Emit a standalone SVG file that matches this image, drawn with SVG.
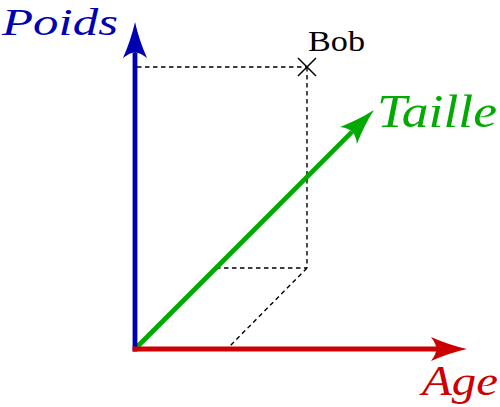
<svg xmlns="http://www.w3.org/2000/svg" width="500" height="407" viewBox="0 0 500 407">
  <style>
    .axis { fill: none; stroke-width: 4.8; stroke-linecap: butt; }
    .dash { fill: none; stroke: #000; stroke-width: 1.4; stroke-dasharray: 4.5 3.5; }
  </style>
  <defs>
    <path id="head" d="M36,0 Q18,-4 0,-12 Q6,-4 5,0 Q6,4 0,12 Q18,4 36,0 Z"/>
    <marker id="mBlue" markerUnits="userSpaceOnUse" viewBox="-1 -13 38 26" markerWidth="38" markerHeight="26" refX="5" refY="0" orient="auto" overflow="visible">
      <use href="#head" fill="#0000b3"/>
    </marker>
    <marker id="mRed" markerUnits="userSpaceOnUse" viewBox="-1 -13 38 26" markerWidth="38" markerHeight="26" refX="5" refY="0" orient="auto" overflow="visible">
      <use href="#head" fill="#cc0000"/>
    </marker>
    <marker id="mGreen" markerUnits="userSpaceOnUse" viewBox="-1 -13 38 26" markerWidth="38" markerHeight="26" refX="5" refY="0" orient="auto" overflow="visible">
      <use href="#head" fill="#00aa00"/>
    </marker>
  </defs>
  <rect width="500" height="407" fill="#fff"/>

  <g id="connectors">
    <path class="dash" d="M137,67 H307"/>
    <path class="dash" d="M307,67 V268"/>
    <path class="dash" d="M216,268 H307"/>
    <path class="dash" d="M307,268 L227,349"/>
    <path class="axis" stroke="#00aa00" d="M135,349 L352,131.9" marker-end="url(#mGreen)"/>
    <path class="axis" stroke="#0000b3" d="M135,351.4 V53" marker-end="url(#mBlue)"/>
    <path class="axis" stroke="#cc0000" d="M132.6,349 H436" marker-end="url(#mRed)"/>
  </g>

  <g id="bob">
    <path d="M298,58 L316,76 M316,58 L298,76" stroke="#000" stroke-width="1.5" fill="none"/>
    <text x="308" y="51" font-family="Liberation Serif" font-size="30" textLength="57" lengthAdjust="spacingAndGlyphs" fill="#000">Bob</text>
  </g>

  <g id="poids">
    <text x="2" y="35" font-family="Liberation Serif" font-style="italic" font-size="38" textLength="116" lengthAdjust="spacingAndGlyphs" fill="#0000b3">Poids</text>
  </g>
  <g id="taille">
    <text x="377" y="127" font-family="Liberation Serif" font-style="italic" font-size="46" textLength="120" lengthAdjust="spacingAndGlyphs" fill="#00aa00">Taille</text>
  </g>
  <g id="age">
    <text x="422" y="395" font-family="Liberation Serif" font-style="italic" font-size="42" textLength="76" lengthAdjust="spacingAndGlyphs" fill="#cc0000">Age</text>
  </g>
</svg>
